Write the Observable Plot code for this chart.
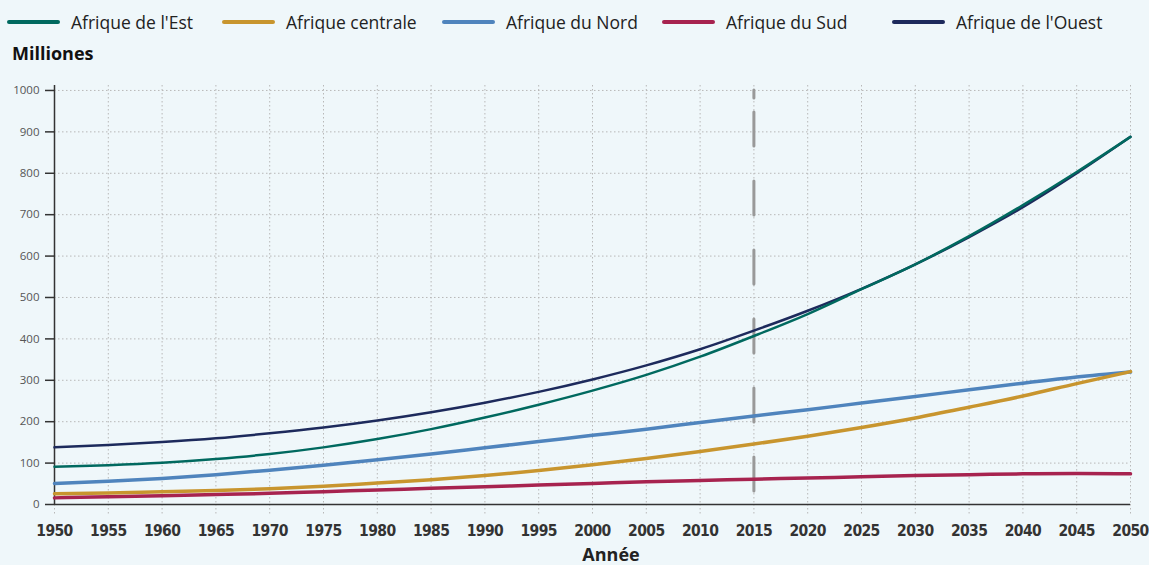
<!DOCTYPE html>
<html>
<head>
<meta charset="utf-8">
<script src="https://cdn.jsdelivr.net/npm/d3@7"></script>
<script src="https://cdn.jsdelivr.net/npm/@observablehq/plot@0.6"></script>
<style>
  html, body { margin: 0; padding: 0; background: #eff7fa; }
  #wrap { position: relative; width: 1149px; height: 565px; background: #eff7fa; overflow: hidden; font-family: "Open Sans", "DejaVu Sans", sans-serif; }
  #legend { position: absolute; top: 0; left: 0; width: 1149px; height: 45px; }
  .item { position: absolute; top: 8px; height: 28px; display: flex; align-items: center; font-size: 17.5px; color: #222; white-space: nowrap; }
  .sw { display: inline-block; width: 53px; height: 3.5px; border-radius: 2px; margin-right: 11px; }
  #ylab { position: absolute; left: 12px; top: 41px; font-weight: bold; font-size: 18px; color: #111; }
  #xlab { position: absolute; left: 0; width: 1222px; text-align: center; top: 545px; font-weight: bold; font-size: 18px; color: #222; line-height: 19px; }
  #chart { position: absolute; top: 70px; left: 0; }
  #chart svg g[aria-label="x-axis tick label"] text { letter-spacing: -0.6px; }
</style>
</head>
<body>
<div id="wrap">
  <div id="legend"></div>
  <div id="ylab">Milliones</div>
  <div id="chart"></div>
  <div id="xlab">Année</div>
</div>
<script>
const years = [1950,1955,1960,1965,1970,1975,1980,1985,1990,1995,2000,2005,2010,2015,2020,2025,2030,2035,2040,2045,2050];
const regions = ["Afrique de l'Est","Afrique centrale","Afrique du Nord","Afrique du Sud","Afrique de l'Ouest"];
const colors  = ["#00695f","#c8952e","#4f84bd","#a7234f","#1d2a5c"];
const legendX = [7, 222, 442, 662, 892];

const eastAfrica    = [91,95,101,110,122,138,158,182,210,241,275,313,357,407,460,520,580,648,723,803,888];
const centralAfrica = [26,28,31,34,38,44,52,60,70,82,96,111,128,146,165,186,209,235,262,292,321];
const northAfrica   = [51,56,63,72,83,95,108,122,137,152,167,182,198,214,229,245,261,277,293,308,320];
const southAfrica   = [16,19,21,24,27,31,35,39,43,47,51,55,58,61,64,67,70,72,74,75,74];
const westAfrica    = [138,144,151,160,172,186,203,223,246,272,302,336,375,420,468,521,580,646,718,800,888];

const xTicks = years;
const yTicks = [0,100,200,300,400,500,600,700,800,900,1000];
const markerYear = 2015;

const seriesValues = [eastAfrica, centralAfrica, northAfrica, southAfrica, westAfrica];
const table = regions.flatMap((r, i) => years.map((y, j) => ({region: r, year: y, value: seriesValues[i][j]})));
const widths = {"Afrique de l'Est": 2.5, "Afrique centrale": 3.5, "Afrique du Nord": 3.5, "Afrique du Sud": 3.5, "Afrique de l'Ouest": 2.5};
const drawOrder = ["Afrique du Nord","Afrique du Sud","Afrique centrale","Afrique de l'Ouest","Afrique de l'Est"];

// legend
const leg = document.getElementById("legend");
regions.forEach((r, i) => {
  const d = document.createElement("div");
  d.className = "item";
  d.style.left = legendX[i] + "px";
  d.innerHTML = `<span class="sw" style="background:${colors[i]}"></span><span>${r}</span>`;
  leg.appendChild(d);
});

const dotted = {stroke: "#b8b8b8", strokeOpacity: 1, strokeWidth: 1, strokeDasharray: "1.5,2.5"};

const chart = Plot.plot({
  width: 1149,
  height: 495,
  marginLeft: 54,
  marginRight: 19,
  marginTop: 15,
  marginBottom: 61,
  style: {background: "transparent", overflow: "visible"},
  x: {domain: [1950, 2050]},
  y: {domain: [0, 1012]},
  color: {domain: regions, range: colors},
  marks: [
    Plot.ruleY(yTicks.filter(d => d > 0), {y: d => d, x1: 1950, x2: 2050, ...dotted}),
    Plot.ruleX(xTicks, {x: d => d, ...dotted}),
    Plot.axisX({ticks: xTicks, tickSize: 11, tickFormat: d => String(d), ...dotted, tickPadding: 9,
      fontSize: 15.5, fontWeight: "bold", fill: "#333",
      fontFamily: "'Liberation Sans Narrow', 'DejaVu Sans Condensed', 'Roboto', sans-serif", label: null}),
    Plot.axisY({ticks: yTicks, tickSize: 9, stroke: "#333", strokeWidth: 1.5, tickPadding: 6, tickFormat: d => String(d),
      fontSize: 11.5, fill: "#555", fontFamily: "'Open Sans', sans-serif", label: null}),
    Plot.ruleX([1950], {stroke: "#333", strokeWidth: 1.5}),
    Plot.ruleY([0], {stroke: "#333", strokeWidth: 1.5}),
    Plot.ruleX([markerYear], {y1: 1000, y2: 0, stroke: "#999", strokeWidth: 3, strokeLinecap: "round",
      strokeDasharray: "8,14,34,35,34,35,34,35,34,35,34,35,34,35,33,7,10,60"}),
    ...drawOrder.map(r => Plot.line(table.filter(d => d.region === r), {
      x: "year", y: "value", stroke: "region", strokeWidth: widths[r], curve: "monotone-x"
    }))
  ]
});
document.getElementById("chart").appendChild(chart);
</script>
</body>
</html>
